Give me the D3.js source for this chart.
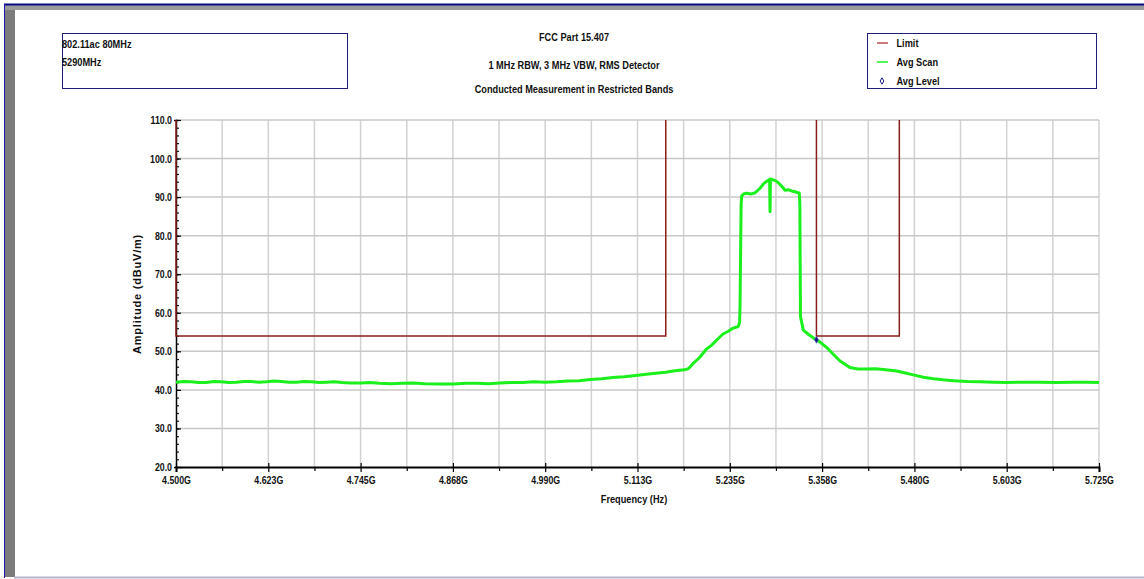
<!DOCTYPE html>
<html>
<head>
<meta charset="utf-8">
<script src="https://cdn.jsdelivr.net/npm/d3@7/dist/d3.min.js"></script>
<style>
  body { margin: 0; background: #fff; }
  svg text { font-family: 'Liberation Sans', Arial, sans-serif; font-weight: bold; fill: #111; }
</style>
</head>
<body>
<div id="chart"></div>
<script>
// Avg Scan trace, frequency in GHz and level in dBuV/m
var scanFreq = [4.500, 4.510, 4.520, 4.530, 4.540, 4.550, 4.560, 4.570, 4.580, 4.590,
  4.600, 4.610, 4.620, 4.630, 4.640, 4.650, 4.660, 4.670, 4.680, 4.690,
  4.700, 4.710, 4.720, 4.732, 4.745, 4.757, 4.770, 4.785, 4.800, 4.815,
  4.830, 4.850, 4.868, 4.885, 4.900, 4.915, 4.930, 4.945, 4.960, 4.975,
  4.990, 5.005, 5.020, 5.035, 5.050, 5.065, 5.080, 5.095, 5.113, 5.127,
  5.140, 5.150, 5.160, 5.168, 5.175, 5.180, 5.186, 5.195, 5.204, 5.211,
  5.218, 5.226, 5.233, 5.239, 5.246, 5.2480, 5.2486, 5.2500, 5.2508, 5.2540,
  5.2574, 5.2630, 5.2684, 5.2751, 5.2800, 5.2840, 5.2878, 5.2884, 5.2890, 5.2906,
  5.2950, 5.2990, 5.3040, 5.3083, 5.3130, 5.3172, 5.3215, 5.3273, 5.3280, 5.3288,
  5.3326, 5.3400, 5.3480, 5.3560, 5.3636, 5.3720, 5.3813, 5.3945, 5.4050, 5.4167,
  5.4280, 5.4387, 5.4480, 5.4565, 5.4680, 5.4785, 5.4920, 5.5051, 5.5180, 5.5316,
  5.5500, 5.5671, 5.5850, 5.6025, 5.6250, 5.6467, 5.6690, 5.6905, 5.7080, 5.725];
var scanAmp = [42.0, 42.2, 42.1, 41.9, 41.9, 42.2, 42.1, 41.9, 42.0, 42.2,
  42.2, 42.0, 42.1, 42.3, 42.2, 42.0, 42.0, 42.2, 42.1, 41.9,
  42.0, 42.1, 41.9, 41.8, 41.8, 41.9, 41.7, 41.6, 41.7, 41.8,
  41.6, 41.5, 41.5, 41.7, 41.7, 41.6, 41.8, 41.9, 41.9, 42.1,
  42.0, 42.1, 42.3, 42.4, 42.7, 42.9, 43.2, 43.4, 43.8, 44.1,
  44.4, 44.6, 44.9, 45.1, 45.2, 45.5, 46.8, 48.4, 50.6, 51.6,
  53.0, 54.5, 55.2, 56.0, 56.4, 57.5, 62.0, 88.0, 90.3, 90.9,
  91.0, 90.8, 91.1, 92.3, 93.5, 94.1, 94.6, 86.2, 94.7, 94.6,
  94.3, 93.8, 92.8, 91.8, 91.9, 91.6, 91.4, 91.0, 88.0, 59.0,
  55.5, 54.3, 53.2, 52.2, 51.0, 49.3, 47.5, 45.8, 45.4, 45.4,
  45.5, 45.3, 45.1, 44.9, 44.4, 43.9, 43.3, 42.9, 42.6, 42.4,
  42.2, 42.1, 42.0, 41.9, 42.0, 42.0, 41.9, 42.0, 42.0, 41.9];

// FCC 15.407 restricted band limits
var limit1Freq = [4.50, 4.50, 5.15, 5.15];
var limit1Amp = [110, 54, 54, 110];
var limit2Freq = [5.35, 5.35, 5.46, 5.46];
var limit2Amp = [110, 54, 54, 110];

// Avg Level marker
var levelFreq = [5.35];
var levelAmp = [53.0];

var xTickValues = [4.5, 4.6225, 4.745, 4.8675, 4.99, 5.1125, 5.235, 5.3575, 5.48, 5.6025, 5.725];
var xTickLabels = ["4.500G", "4.623G", "4.745G", "4.868G", "4.990G", "5.113G", "5.235G", "5.358G", "5.480G", "5.603G", "5.725G"];
var yTickValues = [20, 30, 40, 50, 60, 70, 80, 90, 100, 110];
var yTickLabels = ["20.0", "30.0", "40.0", "50.0", "60.0", "70.0", "80.0", "90.0", "100.0", "110.0"];

var infoLines = ["802.11ac 80MHz", "5290MHz"];
var titleLines = ["FCC Part 15.407", "1 MHz RBW, 3 MHz VBW, RMS Detector", "Conducted Measurement in Restricted Bands"];
var legendNames = ["Limit", "Avg Scan", "Avg Level"];

var W = 1144, H = 579;
var plot = {left: 176, right: 1099, top: 120, bottom: 467};
var limitColor = "#8b1c1c", scanColor = "#1cf01c", levelColor = "#1a1a8c";
var squeeze = 0.8; // the original report font is a narrow one

var svg = d3.select("#chart").append("svg")
  .attr("width", W)
  .attr("height", H)
  .style("display", "block");

// window frame
svg.append("rect").attr("x", 5).attr("y", 5).attr("width", 10).attr("height", 572).attr("fill", "#7c7c7c");
svg.append("rect").attr("x", 5).attr("y", 5).attr("width", W - 5).attr("height", 5).attr("fill", "#9a9a9a");
svg.append("line").attr("x1", 4).attr("x2", W).attr("y1", 4.5).attr("y2", 4.5)
  .attr("stroke", "#0a0a80").attr("stroke-width", 2);
svg.append("line").attr("x1", 4.5).attr("x2", 4.5).attr("y1", 4).attr("y2", 578)
  .attr("stroke", "#1a1ab0").attr("stroke-width", 1);
svg.append("line").attr("x1", 14).attr("x2", W).attr("y1", 577.5).attr("y2", 577.5)
  .attr("stroke", "#b4b4cc").attr("stroke-width", 2);

var x = d3.scaleLinear().domain([4.5, 5.725]).range([plot.left, plot.right]);
var y = d3.scaleLinear().domain([20, 110]).range([plot.bottom, plot.top]);

// grid: every half x division, every major y tick
var gridFreq = [];
xTickValues.forEach(function(v, i) {
  gridFreq.push(v);
  if (i < xTickValues.length - 1) gridFreq.push((v + xTickValues[i + 1]) / 2);
});

svg.append("g")
  .selectAll("line")
  .data(gridFreq.slice(1))
  .enter().append("line")
  .attr("x1", d => x(d)).attr("x2", d => x(d))
  .attr("y1", plot.top).attr("y2", plot.bottom)
  .attr("stroke", "#d2d2d2").attr("stroke-width", 1.5);

svg.append("g")
  .selectAll("line")
  .data(yTickValues.slice(1))
  .enter().append("line")
  .attr("x1", plot.left).attr("x2", plot.right)
  .attr("y1", d => y(d)).attr("y2", d => y(d))
  .attr("stroke", "#c8c8c8").attr("stroke-width", 1.5);

// axes
var xAxis = d3.axisBottom(x)
  .tickValues(xTickValues)
  .tickFormat((d, i) => xTickLabels[i])
  .tickSize(5)
  .tickPadding(4);

var xg = svg.append("g")
  .attr("transform", `translate(0, ${plot.bottom})`)
  .call(xAxis);
xg.select(".domain").attr("stroke", "#000").attr("stroke-width", 2);
xg.selectAll(".tick line").attr("stroke", "#000").attr("stroke-width", 1.2).attr("y1", -4);
xg.selectAll("text").attr("font-size", 11).attr("fill", "#111")
  .attr("transform", `scale(${squeeze},1)`);

var xMinor = svg.append("g")
  .attr("transform", `translate(0, ${plot.bottom})`)
  .call(d3.axisBottom(x).tickValues(gridFreq.filter((d, i) => i % 2 == 1)).tickFormat("").tickSize(4));
xMinor.select(".domain").remove();
xMinor.selectAll(".tick line").attr("stroke", "#000").attr("stroke-width", 1.2);

var minorY = d3.range(20, 111, 2);
var yMinor = svg.append("g")
  .attr("transform", `translate(${plot.left}, 0)`)
  .call(d3.axisLeft(y).tickValues(minorY).tickFormat("").tickSize(2));
yMinor.select(".domain").attr("stroke", "#000").attr("stroke-width", 1.5);
yMinor.selectAll(".tick line").attr("stroke", "#111").attr("stroke-width", 1.2).attr("x2", 3);

var yg = svg.append("g")
  .attr("transform", `translate(${plot.left}, 0)`)
  .call(d3.axisLeft(y).tickValues(yTickValues).tickFormat((d, i) => yTickLabels[i]).tickSize(3).tickPadding(2));
yg.select(".domain").remove();
yg.selectAll(".tick line").attr("stroke", "#000").attr("stroke-width", 1.2).attr("x2", 5);
yg.selectAll("text").attr("font-size", 11).attr("fill", "#111")
  .attr("transform", `scale(${squeeze},1)`);

// limit lines
var line = d3.line().x(d => x(d[0])).y(d => y(d[1]));
[[limit1Freq, limit1Amp], [limit2Freq, limit2Amp]].forEach(function(s) {
  svg.append("path")
    .datum(s[0].map((f, i) => [f, s[1][i]]))
    .attr("d", line)
    .attr("fill", "none")
    .attr("stroke", limitColor)
    .attr("stroke-width", 1.5);
});

// avg scan
svg.append("path")
  .datum(scanFreq.map((f, i) => [f, scanAmp[i]]))
  .attr("d", line)
  .attr("fill", "none")
  .attr("stroke", scanColor)
  .attr("stroke-width", 3)
  .attr("stroke-linejoin", "round");

// avg level marker
svg.selectAll(".level")
  .data(levelFreq)
  .enter().append("path")
  .attr("class", "level")
  .attr("d", d3.symbol().type(d3.symbolDiamond).size(14))
  .attr("transform", (d, i) => `translate(${x(d)}, ${y(levelAmp[i])})`)
  .attr("fill", levelColor)
  .attr("stroke", "#5050c0")
  .attr("stroke-width", 0.6);

// texts drawn narrow, like the report font
function label(px, py, txt, anchor) {
  return svg.append("text")
    .attr("transform", `translate(${px}, ${py}) scale(${squeeze},1)`)
    .attr("text-anchor", anchor || "start")
    .attr("font-size", 11.5)
    .text(txt);
}

// axis titles
svg.append("text")
  .attr("transform", "translate(141, 294) rotate(-90)")
  .attr("text-anchor", "middle")
  .attr("font-size", 11)
  .attr("letter-spacing", 0.8)
  .text("Amplitude (dBuV/m)");

label(634, 503, "Frequency (Hz)", "middle");

// titles
titleLines.forEach((t, i) => label(574, [41, 69, 93][i], t, "middle"));

// info box
svg.append("rect")
  .attr("x", 62.5).attr("y", 33.5).attr("width", 285).attr("height", 55)
  .attr("fill", "none").attr("stroke", "#1e1e7a").attr("stroke-width", 1);
infoLines.forEach((t, i) => label(62, 48 + i * 18, t));

// legend
svg.append("rect")
  .attr("x", 867.5).attr("y", 33.5).attr("width", 229).attr("height", 55)
  .attr("fill", "none").attr("stroke", "#1e1e7a").attr("stroke-width", 1);
legendNames.forEach(function(name, i) {
  var ly = 43 + i * 19;
  if (i < 2) {
    svg.append("line")
      .attr("x1", 877).attr("x2", 888).attr("y1", ly).attr("y2", ly)
      .attr("stroke", i == 0 ? "#b85050" : scanColor)
      .attr("stroke-width", 1.5);
  } else {
    svg.append("path")
      .attr("d", d3.symbol().type(d3.symbolDiamond).size(12))
      .attr("transform", `translate(882, ${ly})`)
      .attr("fill", "#fff")
      .attr("stroke", levelColor)
      .attr("stroke-width", 1);
  }
  label(896.5, ly + 4, name);
});
</script>
</body>
</html>
